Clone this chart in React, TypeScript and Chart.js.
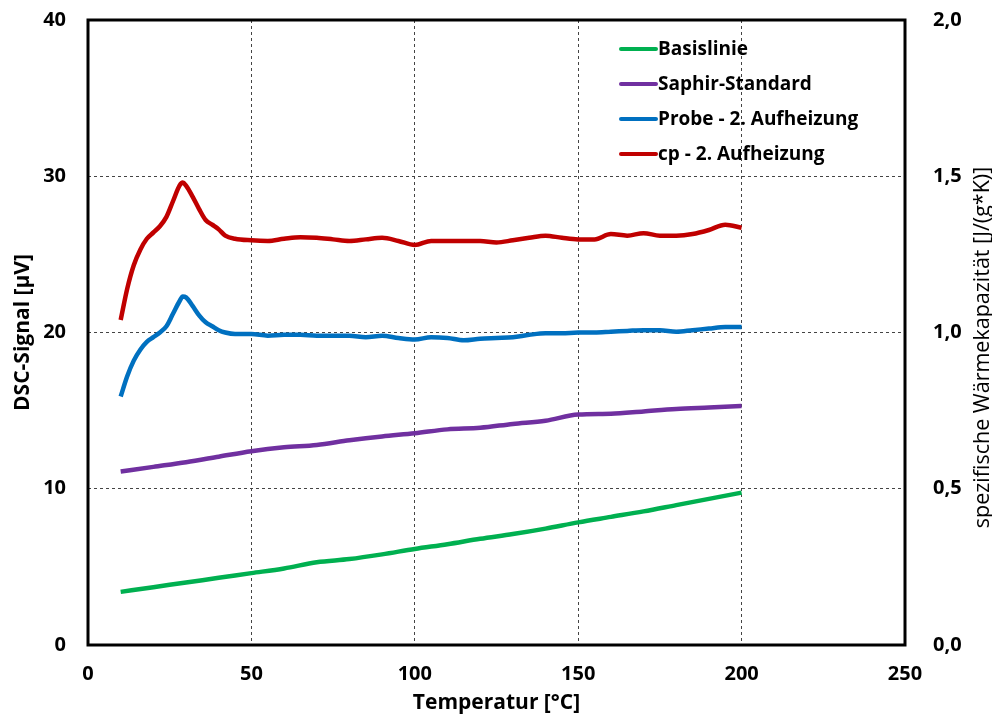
import React, { useEffect, useRef } from "react";
import { Chart, registerables } from "chart.js";

Chart.register(...registerables);

// ---- data ----
const baseTemps = [10, 20, 30, 40, 50, 60, 70, 80, 90, 100, 110, 120, 130, 140, 150, 160, 170, 180, 190, 200];
const basislinie = [3.4, 3.7, 4.0, 4.3, 4.6, 4.9, 5.3, 5.5, 5.8, 6.15, 6.45, 6.8, 7.1, 7.45, 7.85, 8.2, 8.55, 8.95, 9.35, 9.75];
const saphir = [11.1, 11.4, 11.7, 12.05, 12.4, 12.65, 12.8, 13.1, 13.35, 13.55, 13.8, 13.9, 14.15, 14.35, 14.75, 14.8, 14.95, 15.1, 15.2, 15.3];

const fineTemps = [10, 12, 14, 16, 18, 20, 22, 24, 26, 28, 29, 30, 32, 34, 36, 38, 40, 42, 45, 50, 55, 60, 65, 70, 75, 80, 85, 90, 95, 100, 105, 110, 115, 120, 125, 130, 135, 140, 145, 150, 155, 160, 165, 170, 175, 180, 185, 190, 195, 200];
const probe = [15.9, 17.2, 18.2, 18.9, 19.4, 19.7, 20.0, 20.4, 21.2, 22.0, 22.3, 22.25, 21.7, 21.1, 20.65, 20.4, 20.15, 20.0, 19.9, 19.9, 19.8, 19.85, 19.85, 19.8, 19.8, 19.8, 19.7, 19.8, 19.65, 19.55, 19.7, 19.65, 19.5, 19.6, 19.65, 19.7, 19.85, 19.95, 19.95, 20.0, 20.0, 20.05, 20.1, 20.15, 20.15, 20.05, 20.15, 20.25, 20.35, 20.35];
const cp = [1.04, 1.14, 1.215, 1.265, 1.3, 1.32, 1.34, 1.37, 1.42, 1.47, 1.48, 1.47, 1.435, 1.395, 1.36, 1.345, 1.33, 1.31, 1.3, 1.295, 1.293, 1.3, 1.305, 1.303, 1.298, 1.293, 1.298, 1.303, 1.293, 1.28, 1.293, 1.293, 1.293, 1.293, 1.288, 1.295, 1.303, 1.31, 1.303, 1.298, 1.298, 1.315, 1.31, 1.318, 1.31, 1.31, 1.315, 1.328, 1.345, 1.335];

const seriesLabels = ["Basislinie", "Saphir-Standard", "Probe - 2. Aufheizung", "cp - 2. Aufheizung"];
const seriesColors = ["#00B050", "#7030A0", "#0070C0", "#C00000"];

const xTitle = "Temperatur [°C]";
const yTitle = "DSC-Signal [µV]";
const y2Title = "spezifische Wärmekapazität [J/(g*K)]";

const FONT = '"Open Sans", "Noto Sans", sans-serif';

const pts = (xs: number[], ys: number[]) => xs.map((x, i) => ({ x, y: ys[i] }));

const decor = {
  id: "decor",
  afterDraw(chart: any) {
    const { ctx, chartArea: a } = chart;
    ctx.save();
    ctx.strokeStyle = "#000";
    ctx.lineWidth = 3;
    ctx.strokeRect(a.left, a.top, a.right - a.left, a.bottom - a.top);

    // legend
    const lx = a.left + 533;
    const ly = a.top + 29;
    ctx.font = `bold 19px ${FONT}`;
    ctx.textBaseline = "middle";
    ctx.textAlign = "left";
    chart.data.datasets.forEach((ds: any, i: number) => {
      const y = ly + i * 35;
      ctx.strokeStyle = ds.borderColor;
      ctx.lineWidth = 4;
      ctx.lineCap = "round";
      ctx.beginPath();
      ctx.moveTo(lx, y);
      ctx.lineTo(lx + 35, y);
      ctx.stroke();
      ctx.fillStyle = "#000";
      ctx.fillText(ds.label, lx + 37, y + 1);
    });

    // right axis title (reads bottom to top)
    ctx.translate(983, (a.top + a.bottom) / 2 + 15);
    ctx.rotate(-Math.PI / 2);
    ctx.textAlign = "center";
    ctx.font = `21.5px ${FONT}`;
    ctx.fillStyle = "#000";
    ctx.fillText(y2Title, 0, 0);
    ctx.restore();
  },
};

export default function App() {
  const ref = useRef<HTMLCanvasElement>(null);
  useEffect(() => {
    if (!ref.current) return;
    const tickFont = { family: FONT, size: 20, weight: "bold" as const };
    const titleFont = { family: FONT, size: 21, weight: "bold" as const };
    const grid = { color: "#444", lineWidth: 1, drawTicks: false };
    const fitV = (w: number) => (s: any) => {
      s.width = w;
      s.paddingTop = 0;
      s.paddingBottom = 0;
    };
    const chart = new Chart(ref.current, {
      type: "line",
      data: {
        datasets: [
          { label: seriesLabels[0], data: pts(baseTemps, basislinie), borderColor: seriesColors[0], yAxisID: "y" },
          { label: seriesLabels[1], data: pts(baseTemps, saphir), borderColor: seriesColors[1], yAxisID: "y" },
          { label: seriesLabels[2], data: pts(fineTemps, probe), borderColor: seriesColors[2], yAxisID: "y" },
          { label: seriesLabels[3], data: pts(fineTemps, cp), borderColor: seriesColors[3], yAxisID: "y2" },
        ].map((d) => ({
          ...d,
          backgroundColor: d.borderColor,
          borderWidth: 4.5,
          pointRadius: 0,
          cubicInterpolationMode: "monotone" as const,
          fill: false,
        })),
      },
      options: {
        responsive: false,
        animation: false,
        layout: { padding: { top: 20, left: 0, right: 0, bottom: 0 } },
        plugins: { legend: { display: false }, tooltip: { enabled: false } },
        scales: {
          x: {
            type: "linear",
            min: 0,
            max: 250,
            ticks: { stepSize: 50, font: tickFont, color: "#000", padding: 17 },
            grid,
            border: { display: false, dash: [3, 3] },
            title: { display: true, text: xTitle, font: titleFont, color: "#000", padding: { top: 0, bottom: 1 } },
            afterFit: (s: any) => {
              s.height = 72;
              s.paddingLeft = 0;
              s.paddingRight = 0;
            },
          },
          y: {
            type: "linear",
            position: "left",
            min: 0,
            max: 40,
            ticks: { stepSize: 10, font: tickFont, color: "#000", padding: 22 },
            grid,
            border: { display: false, dash: [3, 3] },
            title: { display: true, text: yTitle, font: titleFont, color: "#000", padding: { top: 10, bottom: 0 } },
            afterFit: fitV(88),
          },
          y2: {
            type: "linear",
            position: "right",
            min: 0,
            max: 2,
            ticks: {
              stepSize: 0.5,
              font: tickFont,
              color: "#000",
              padding: 20,
              callback: (v: any) => Number(v).toFixed(1).replace(".", ","),
            },
            grid: { display: false },
            border: { display: false },
            afterFit: fitV(87),
          },
        },
      },
      plugins: [decor],
    });
    return () => chart.destroy();
  }, []);
  return (
    <div style={{ position: "absolute", left: 0, top: 0, width: 992, height: 717, background: "#fff" }}>
      <canvas ref={ref} width={992} height={717} style={{ display: "block" }} />
    </div>
  );
}
